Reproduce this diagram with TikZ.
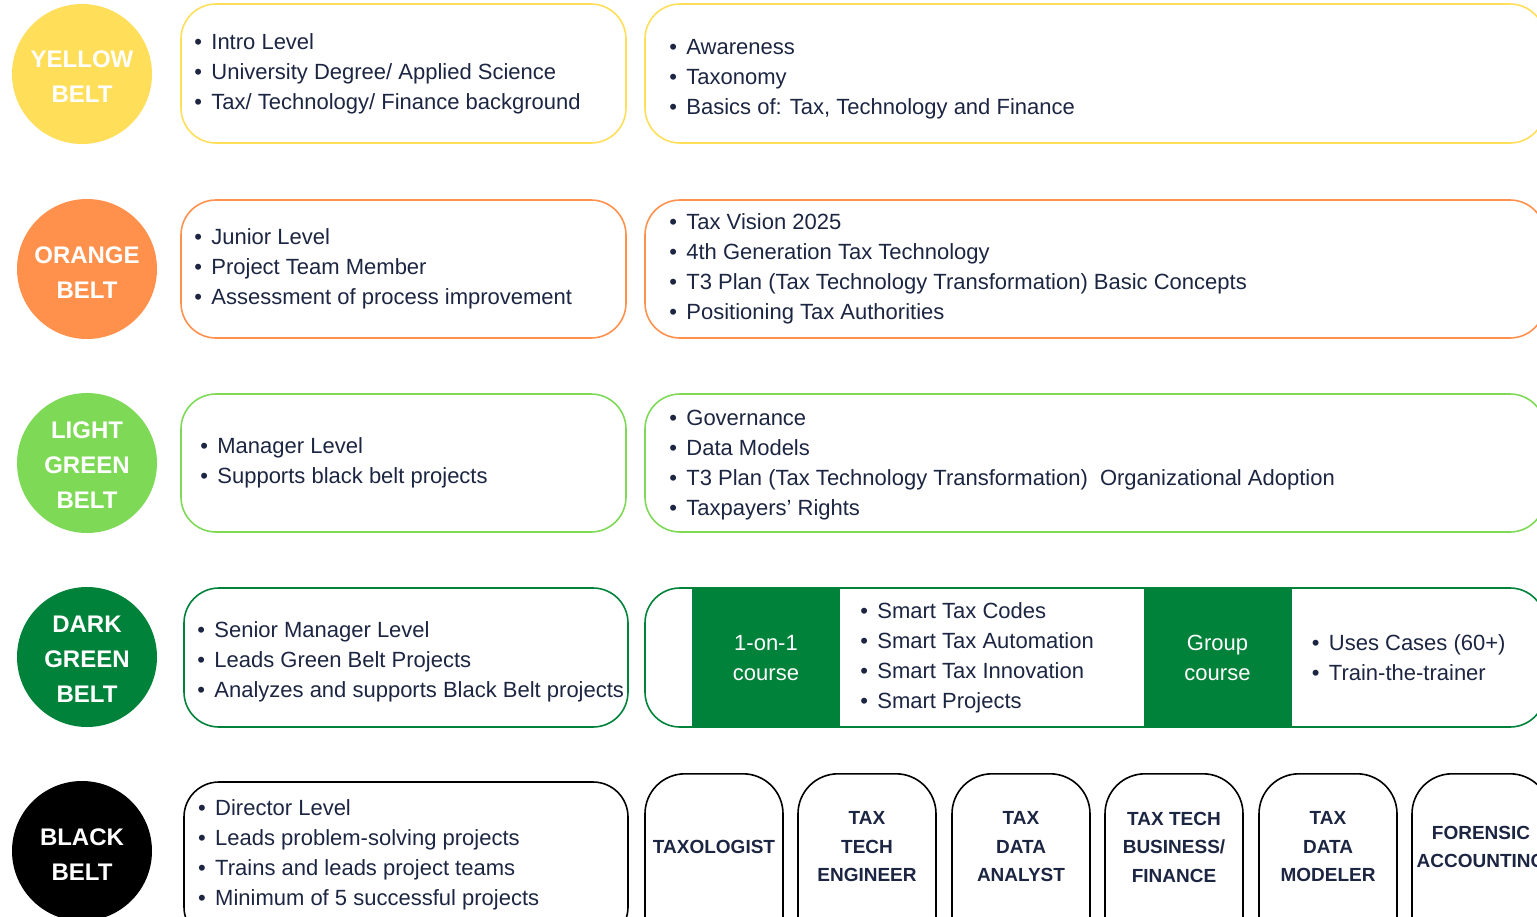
\documentclass[tikz,border=0pt]{standalone}
\usepackage{fontspec}
\setmainfont{Liberation Sans}
\usepackage{xcolor}
\usepackage{tikz}

\definecolor{beltyellow}{HTML}{FFDE59}
\definecolor{beltorange}{HTML}{FF914D}
\definecolor{beltlight}{HTML}{7ED957}
\definecolor{beltdark}{HTML}{00823A}
\definecolor{inktext}{HTML}{1C2541}
\newcommand{\itm}[1]{\makebox[17pt][l]{\textbullet}#1}

\begin{document}
\begin{tikzpicture}[x=1pt,y=-1pt,
  belt/.style={circle, minimum size=140pt, inner sep=0pt, text=white,
    font=\fontsize{24}{35}\selectfont\bfseries, align=center},
  infobox/.style={draw, line width=1.6pt, rounded corners=35pt, inner sep=0pt},
  itemlist/.style={anchor=west, inner sep=0pt, align=left, text=inktext,
    font=\fontsize{22}{30}\selectfont},
  course/.style={fill=beltdark, inner sep=0pt, text=white, align=center,
    minimum width=148pt, minimum height=140pt, font=\fontsize{22}{30}\selectfont},
  jobbox/.style={draw=black, line width=1.6pt, rounded corners=40pt, inner sep=0pt,
    minimum width=138pt, minimum height=190pt, anchor=north},
  jobtext/.style={text=inktext, align=center, inner sep=0pt,
    font=\fontsize{19}{28.5}\selectfont\bfseries}]
\useasboundingbox (0,0) rectangle (1537,916);
\clip (0,0) rectangle (1537,916);

% belts
\node[belt, fill=beltyellow] (yellow) at (82,74) {};
\node[belt, fill=beltorange] (orange) at (87,269) {};
\node[belt, fill=beltlight] (light) at (87,463) {};
\node[belt, fill=beltdark] (dark) at (87,657) {};
\node[belt, fill=black] (black) at (82,851) {};
\node[belt] (yellowtxt) at (82,77) {YELLOW\\BELT};
\node[belt] (orangetxt) at (87,273) {ORANGE\\BELT};
\node[belt] (lighttxt) at (87,465) {LIGHT\\GREEN\\BELT};
\node[belt] (darktxt) at (87,659) {DARK\\GREEN\\BELT};
\node[belt] (blacktxt) at (82,855) {BLACK\\BELT};

% yellow row
\node[infobox, draw=beltyellow, minimum width=445pt, minimum height=139pt] (yellowreq) at (403.5,73.5) {};
\node[itemlist] (yellowreqtxt) at ([xshift=14pt]yellowreq.west)
  {\itm{Intro Level}\\\itm{University Degree/ Applied Science}\\\itm{Tax/ Technology/ Finance background}};
\node[infobox, draw=beltyellow, minimum width=900pt, minimum height=139pt] (yellowtopic) at (1095,73.5) {};
\node[itemlist] (yellowtopictxt) at ([xshift=25pt,yshift=-6pt]yellowtopic.west)
  {\itm{Awareness}\\\itm{Taxonomy}\\\itm{Basics of: Tax, Technology and Finance}};

% orange row
\node[infobox, draw=beltorange, minimum width=445pt, minimum height=138pt] (orangereq) at (403.5,269) {};
\node[itemlist] (orangereqtxt) at ([xshift=14pt]orangereq.west)
  {\itm{Junior Level}\\\itm{Project Team Member}\\\itm{Assessment of process improvement}};
\node[infobox, draw=beltorange, minimum width=900pt, minimum height=138pt] (orangetopic) at (1095,269) {};
\node[itemlist] (orangetopictxt) at ([xshift=25pt]orangetopic.west)
  {\itm{Tax Vision 2025}\\\itm{4th Generation Tax Technology}\\\itm{T3 Plan (Tax Technology Transformation) Basic Concepts}\\\itm{Positioning Tax Authorities}};

% light green row
\node[infobox, draw=beltlight, minimum width=445pt, minimum height=138pt] (lightreq) at (403.5,463) {};
\node[itemlist] (lightreqtxt) at ([xshift=20pt]lightreq.west)
  {\itm{Manager Level}\\\itm{Supports black belt projects}};
\node[infobox, draw=beltlight, minimum width=900pt, minimum height=138pt] (lighttopic) at (1095,463) {};
\node[itemlist] (lighttopictxt) at ([xshift=25pt,yshift=-2pt]lighttopic.west)
  {\itm{Governance}\\\itm{Data Models}\\\itm{T3 Plan (Tax Technology Transformation)\ \ Organizational Adoption}\\\itm{Taxpayers' Rights}};

% dark green row
\node[infobox, draw=beltdark, minimum width=444pt, minimum height=139pt] (darkreq) at (406,657.5) {};
\node[itemlist] (darkreqtxt) at ([xshift=14pt,yshift=-4pt]darkreq.west)
  {\itm{Senior Manager Level}\\\itm{Leads Green Belt Projects}\\\itm{Analyzes and supports Black Belt projects}};
\node[infobox, draw=beltdark, minimum width=900pt, minimum height=139pt] (darktopic) at (1095,657.5) {};
\node[course] (oneonone) at (766,658) {1-on-1\\course};
\node[itemlist] (oneononetxt) at ([xshift=20pt]oneonone.east)
  {\itm{Smart Tax Codes}\\\itm{Smart Tax Automation}\\\itm{Smart Tax Innovation}\\\itm{Smart Projects}};
\node[course] (group) at (1217.5,658) {Group\\course};
\node[itemlist] (grouptxt) at ([xshift=20pt]group.east)
  {\itm{Uses Cases (60+)}\\\itm{Train-the-trainer}};

% black row
\node[infobox, draw=black, minimum width=444pt, minimum height=160pt] (blackreq) at (406,862) {};
\node[itemlist] (blackreqtxt) at (198,855)
  {\itm{Director Level}\\\itm{Leads problem-solving projects}\\\itm{Trains and leads project teams}\\\itm{Minimum of 5 successful projects}};
\foreach \n/\x/\t in {taxologist/714/{TAXOLOGIST},
    engineer/867/{TAX\\TECH\\ENGINEER},
    analyst/1021/{TAX\\DATA\\ANALYST},
    business/1174/{TAX TECH\\BUSINESS/\\FINANCE},
    modeler/1328/{TAX\\DATA\\MODELER},
    forensic/1481/{FORENSIC\\ACCOUNTING}}{
  \node[jobbox] (\n) at (\x,773) {};
  \node[jobtext] (\n txt) at (\x,847) {\t};
}
\end{tikzpicture}
\end{document}
